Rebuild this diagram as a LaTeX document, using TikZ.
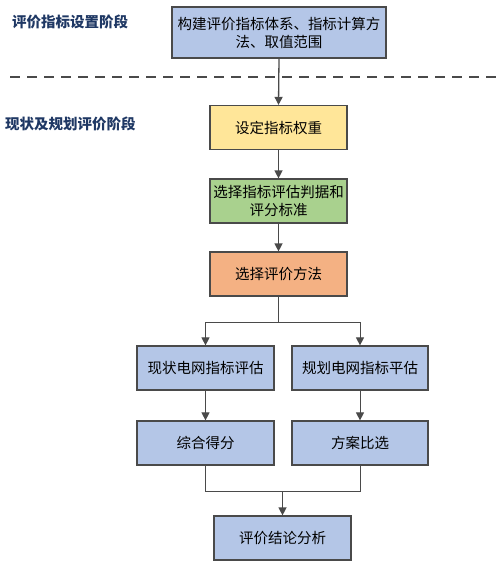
\documentclass[tikz,border=0pt]{standalone}
\usepackage{fontspec}
\setmainfont{Noto Sans CJK SC}
\usetikzlibrary{arrows.meta}
\definecolor{boxblue}{HTML}{B4C6E7}
\definecolor{boxyellow}{HTML}{FFE699}
\definecolor{boxgreen}{HTML}{A9D18E}
\definecolor{boxorange}{HTML}{F4B183}
\definecolor{edgegray}{HTML}{4A4A4A}
\definecolor{labelblue}{HTML}{1F3864}
\tikzset{
  stagebox/.style={draw=edgegray, line width=1.2pt, align=center, inner sep=1pt,
    font=\fontsize{14.5}{18}\selectfont, minimum width=137pt, minimum height=44pt},
  flow/.style={draw=edgegray, line width=1.3pt, -{Triangle[length=8pt,width=8pt]}},
  thinflow/.style={draw=edgegray, line width=1pt, -{Triangle[length=8pt,width=8pt]}},
  link/.style={draw=edgegray, line width=1pt},
  stagelabel/.style={text=labelblue, font=\bfseries\fontsize{14.5}{17}\selectfont, anchor=west, inner sep=0pt}
}
\begin{document}
\begin{tikzpicture}[x=1pt,y=1pt]
\useasboundingbox (0,0) rectangle (500,-563);
\node[stagelabel] (l1) at (12,-22) {评价指标设置阶段};
\node[stagelabel] (l2) at (5,-124) {现状及规划评价阶段};
\coordinate (d1) at (10,-77);
\coordinate (d2) at (500,-77);
\draw[edgegray, line width=1.3pt, dash pattern=on 10pt off 7pt] (d1) -- (d2);

\node[stagebox, fill=boxblue, minimum width=214pt, minimum height=51pt] (b1) at (279,-32.5) {构建评价指标体系、指标计算方\\法、取值范围};
\node[stagebox, fill=boxyellow] (b2) at (278.5,-127.5) {设定指标权重};
\node[stagebox, fill=boxgreen] (b3) at (278.5,-201) {选择指标评估判据和\\评分标准};
\node[stagebox, fill=boxorange] (b4) at (278.5,-274) {选择评价方法};
\node[stagebox, fill=boxblue] (b5) at (205.5,-368) {现状电网指标评估};
\node[stagebox, fill=boxblue, minimum width=136pt] (b6) at (360,-368) {规划电网指标平估};
\node[stagebox, fill=boxblue] (b7) at (205.5,-443) {综合得分};
\node[stagebox, fill=boxblue, minimum width=136pt] (b8) at (360,-443) {方案比选};
\node[stagebox, fill=boxblue] (b9) at (282.5,-538) {评价结论分析};

\draw[flow] (b1.south) -- (b2.north);
\draw[flow] (b2) -- (b3);
\draw[flow] (b3) -- (b4);
\coordinate (split) at (278.5,-322);
\draw[link] (b4.south) -- (split);
\draw[thinflow] (split) -| (b5.north);
\draw[thinflow] (split) -| (b6.north);
\draw[thinflow] (b5) -- (b7);
\draw[thinflow] (b6) -- (b8);
\coordinate (merge) at (282.5,-491);
\draw[link] (b7.south) |- (merge);
\draw[link] (b8.south) |- (merge);
\draw[flow] (merge) -- (b9.north);
\end{tikzpicture}
\end{document}
